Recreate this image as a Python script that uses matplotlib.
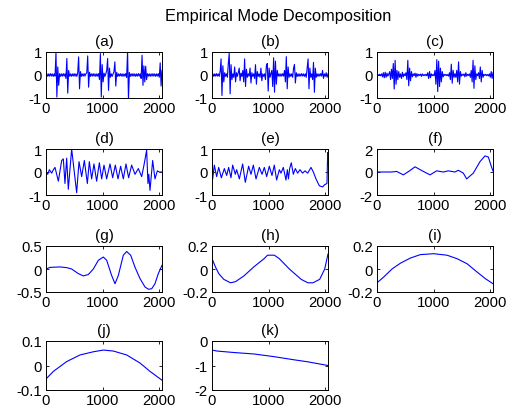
import numpy as np
import matplotlib
matplotlib.use("Agg")
import matplotlib.pyplot as plt

# Arial-lik skrift som i MATLAB
plt.rcParams['font.family'] = ['Liberation Sans', 'DejaVu Sans']
plt.rcParams['font.size'] = 10.7

# IMF (a)-(c): avlest for kvar 16. sample (0..2048)
n_abc = np.arange(129) * 16

imf_a = [0.0, 0.05, -0.06, 0.05, -0.05, 0.06, -0.05, 0.05, -0.06, 0.05, -0.05, 0.98, -0.96, 0.35, -0.45, 0.06,
         -0.06, 0.05, -0.05, 0.06, -0.05, 0.05, -0.15, 0.72, -0.79, 0.2, -0.05, 0.05, -0.06, 0.05, -0.05, 0.06,
         -0.05, 0.05, -0.06, 0.1, 0.79, -0.6, 0.15, -0.06, 0.05, -0.05, 0.06, -0.05, 0.05, 0.1, 0.83, -0.53,
         0.12, -0.06, 0.05, -0.05, 0.06, -0.05, 0.05, -0.06, 0.05, -0.05, 0.06, -0.2, 0.93, -0.96, 0.45, -0.3,
         0.08, -0.06, 0.05, 0.2, 0.72, -0.67, 0.3, -0.1, 0.05, -0.06, 0.05, 0.15, 0.57, -0.48, 0.12, -0.06,
         0.05, -0.05, 0.06, -0.05, 0.05, -0.06, 0.05, -0.05, 0.06, -0.1, 1.05, -1.05, 0.1, -0.06, 0.05, -0.05,
         0.06, -0.05, 0.05, -0.06, 0.05, -0.05, 0.06, -0.05, 0.05, -0.15, 0.86, -0.45, 0.4, -0.3, 0.38, -0.2,
         0.06, -0.05, 0.05, -0.06, 0.05, -0.05, 0.06, -0.05, 0.05, -0.06, 0.05, -0.05, 0.06, -0.1, 0.53, -0.48,
         0.2]

imf_b = [0.0, 0.05, -0.06, 0.05, -0.05, 0.06, -0.05, 0.05, -0.06, 0.15, 0.7, -0.89, 0.4, -0.3, 0.1, -0.06,
         0.05, -0.1, 0.5, 0.95, -0.82, 0.45, -0.2, 0.05, -0.1, 0.35, -0.3, 0.1, -0.06, 0.1, 0.3, -0.25,
         0.08, -0.06, 0.2, -0.3, 0.7, -0.5, 0.25, -0.1, 0.05, -0.05, 0.3, -0.35, 0.1, -0.06, 0.05, -0.15,
         0.45, -0.4, 0.15, -0.06, 0.05, -0.1, 0.3, -0.25, 0.05, -0.06, 0.05, -0.2, 0.4, 0.5, -0.7, 0.3,
         -0.1, 0.05, 0.2, -0.5, 0.75, -0.75, 0.6, -0.4, 0.2, -0.05, 0.05, -0.06, 0.05, -0.05, 0.06, -0.05,
         0.2, -0.3, 0.8, -0.6, 0.35, -0.1, 0.05, -0.06, 0.05, -0.1, 0.3, 0.45, -0.35, 0.1, -0.06, 0.05,
         -0.06, 0.05, -0.05, 0.06, -0.05, 0.05, -0.06, 0.05, -0.1, 0.3, 0.7, -0.6, 0.3, -0.1, 0.05, -0.2,
         0.55, -0.75, 0.3, -0.1, 0.05, -0.06, 0.05, -0.05, 0.06, -0.05, 0.2, -0.15, 0.05, -0.06, 0.1, -0.1,
         0.05]

imf_c = [0.0, 0.02, -0.02, 0.03, -0.03, 0.05, -0.08, 0.1, -0.12, 0.12, -0.1, 0.08, -0.05, 0.03, 0.15, -0.2,
         0.25, -0.15, 0.5, -0.61, 0.64, -0.4, 0.2, -0.2, 0.15, -0.1, 0.05, -0.15, 0.12, -0.08, 0.05, -0.03,
         0.1, -0.2, 0.64, -0.47, 0.3, -0.25, 0.15, -0.08, 0.05, -0.03, 0.08, -0.1, 0.06, -0.05, 0.03, -0.02,
         0.04, -0.06, 0.05, -0.03, 0.02, -0.03, 0.03, -0.03, 0.1, -0.15, 0.15, -0.12, 0.05, -0.03, 0.02, -0.03,
         0.2, -0.4, 0.67, -0.72, 0.6, -0.5, 0.3, -0.3, 0.15, -0.08, 0.03, -0.02, 0.03, -0.03, 0.02, -0.05,
         0.1, -0.2, 0.47, -0.36, 0.2, -0.1, 0.05, -0.1, 0.2, -0.3, 0.57, -0.4, 0.15, -0.05, 0.03, -0.02,
         0.05, -0.08, 0.1, -0.05, 0.03, -0.02, 0.05, -0.1, 0.2, -0.3, 0.64, -0.58, 0.4, -0.2, 0.05, -0.03,
         0.1, -0.15, 0.35, -0.3, 0.2, -0.1, 0.03, -0.02, 0.03, -0.03, 0.02, -0.04, 0.05, -0.1, 0.15, -0.15,
         0.1]

# IMF (d)-(k): vendepunkt (sample, verdi)
d_x = [0, 30, 60, 100, 130, 159, 218, 277, 306, 335, 365, 394, 453, 541, 583, 630, 677, 730, 765, 806,
       847, 894, 942, 983, 1024, 1071, 1130, 1177, 1224, 1271, 1318, 1365, 1412, 1459, 1512, 1571, 1630,
       1689, 1730, 1777, 1800, 1815, 1836, 1883, 1924, 1966, 2000, 2048]
d_y = [0.0, -0.1, 0.1, -0.05, 0.1, 0.2, -0.4, 0.5, 0.57, -0.5, 0.6, -0.75, 1.0, -0.9, 0.45, -0.2, 0.5,
       -0.5, 0.45, -0.3, 0.35, -0.4, 0.4, -0.3, 0.3, -0.3, 0.35, -0.25, 0.3, -0.3, 0.25, -0.3, 0.35, -0.25,
       0.3, -0.1, 0.15, -0.2, 0.3, 0.95, -0.5, -0.1, -0.8, 0.5, -0.3, 0.05, 0.0, 0.0]

e_x = [0, 6, 12, 41, 82, 118, 165, 218, 259, 294, 335, 365, 412, 435, 483, 541, 588, 647, 688, 730,
       777, 836, 883, 924, 965, 1012, 1059, 1100, 1141, 1189, 1218, 1259, 1306, 1330, 1350, 1371, 1400,
       1436, 1471, 1512, 1553, 1600, 1642, 1689, 1748, 1789, 1836, 1895, 1954, 1989, 2030, 2042, 2048]
e_y = [0.0, 0.35, -0.3, 0.3, -0.2, 0.2, -0.25, 0.15, -0.15, 0.2, -0.25, 0.3, -0.1, 0.1, -0.3, 0.35,
       -0.45, 0.25, -0.1, 0.3, -0.3, 0.2, -0.1, 0.2, -0.2, 0.25, -0.15, 0.3, -0.35, 0.1, -0.05, 0.2,
       -0.35, 0.1, -0.3, 0.15, 0.4, -0.1, 0.15, -0.05, 0.1, -0.05, 0.05, -0.05, 0.2, 0.0, -0.3, -0.6,
       -0.65, -0.55, -0.5, 0.85, 0.3]

f_x = [0, 12, 259, 347, 465, 560, 671, 800, 936, 1053, 1171, 1259, 1377, 1436, 1524, 1583, 1700, 1818,
       1907, 1966, 2024, 2048]
f_y = [0.0, 0.0, 0.0, 0.05, -0.25, 0.05, 0.45, 0.1, -0.25, 0.1, 0.0, 0.1, 0.0, 0.15, -0.1, -0.6, -0.1,
       0.9, 1.4, 1.3, 0.4, 0.1]

g_x = [0, 71, 247, 365, 453, 571, 659, 747, 836, 924, 1012, 1071, 1159, 1218, 1277, 1365, 1424, 1495,
       1571, 1660, 1748, 1807, 1866, 1924, 1983, 2048]
g_y = [0.0, 0.035, 0.045, 0.03, 0.0, -0.1, -0.15, -0.12, 0.0, 0.19, 0.26, 0.19, -0.14, -0.32, -0.14,
       0.3, 0.38, 0.3, 0.04, -0.21, -0.39, -0.44, -0.43, -0.32, -0.1, 0.08]

h_x = [0, 59, 119, 208, 327, 416, 564, 742, 920, 980, 1100, 1188, 1366, 1574, 1693, 1782, 1901, 1990,
       2048]
h_y = [0.09, 0.02, -0.04, -0.09, -0.12, -0.11, -0.06, 0.02, 0.09, 0.12, 0.12, 0.09, 0.0, -0.09, -0.12,
       -0.12, -0.09, 0.0, 0.13]

i_x = [0, 118, 265, 412, 588, 765, 1000, 1236, 1412, 1589, 1766, 1913, 2048]
i_y = [-0.12, -0.07, 0.0, 0.05, 0.095, 0.125, 0.133, 0.12, 0.09, 0.046, -0.026, -0.084, -0.128]

j_x = [0, 130, 365, 600, 836, 1012, 1189, 1424, 1660, 1836, 2048]
j_y = [-0.055, -0.024, 0.016, 0.043, 0.056, 0.063, 0.059, 0.043, 0.01, -0.024, -0.06]

k_x = [0, 89, 386, 742, 1099, 1455, 1693, 2048]
k_y = [-0.37, -0.41, -0.47, -0.53, -0.64, -0.77, -0.85, -1.0]

panel_navn = ['(a)', '(b)', '(c)', '(d)', '(e)', '(f)', '(g)', '(h)', '(i)', '(j)', '(k)']
panel_x = [n_abc, n_abc, n_abc, d_x, e_x, f_x, g_x, h_x, i_x, j_x, k_x]
panel_y = [imf_a, imf_b, imf_c, d_y, e_y, f_y, g_y, h_y, i_y, j_y, k_y]
y_grenser = [(-1, 1)] * 5 + [(-2, 2), (-0.5, 0.5), (-0.2, 0.2), (-0.2, 0.2), (-0.1, 0.1), (-2, 0)]
y_ticks = [[-1, 0, 1]] * 5 + [[-2, 0, 2], [-0.5, 0, 0.5], [-0.2, 0, 0.2], [-0.2, 0, 0.2],
                              [-0.1, 0, 0.1], [-2, -1, 0]]
y_tekst = [['-1', '0', '1']] * 5 + [['-2', '0', '2'], ['-0.5', '0', '0.5'], ['-0.2', '0', '0.2'],
                                    ['-0.2', '0', '0.2'], ['-0.1', '0', '0.1'], ['-2', '-1', '0']]

# plassering i piksler (515x414)
W, H = 515, 414
venstre = [46, 212, 377]
topp = [53, 150, 247, 342]
hoyde = [46, 46, 46, 49]
bredde = 116

fig = plt.figure(figsize=(W / 100, H / 100), dpi=100)
fig.text(278 / W, 1 - 16 / H, 'Empirical Mode Decomposition', ha='center', va='center', fontsize=11.8)

for k in range(11):
    rad, kol = divmod(k, 3)
    ax = fig.add_axes([venstre[kol] / W, 1 - (topp[rad] + hoyde[rad]) / H, bredde / W, hoyde[rad] / H])
    ax.plot(panel_x[k], panel_y[k], color='#0000ff', linewidth=0.8)
    ax.set_xlim(0, 2048)
    ax.set_ylim(*y_grenser[k])
    ax.set_xticks([0, 1000, 2000])
    ax.set_xticklabels(['0', '1000', '2000'])
    ax.set_yticks(y_ticks[k])
    ax.set_yticklabels(y_tekst[k])
    ax.tick_params(direction='in', top=True, right=True, length=2.5, width=0.6, labelsize=10.7)
    ax.tick_params(axis='x', pad=2.5)
    ax.tick_params(axis='y', pad=3)
    for s in ax.spines.values():
        s.set_linewidth(0.7)
    ax.set_title(panel_navn[k], fontsize=11, pad=5)

fig.savefig('out.png', dpi=100)
